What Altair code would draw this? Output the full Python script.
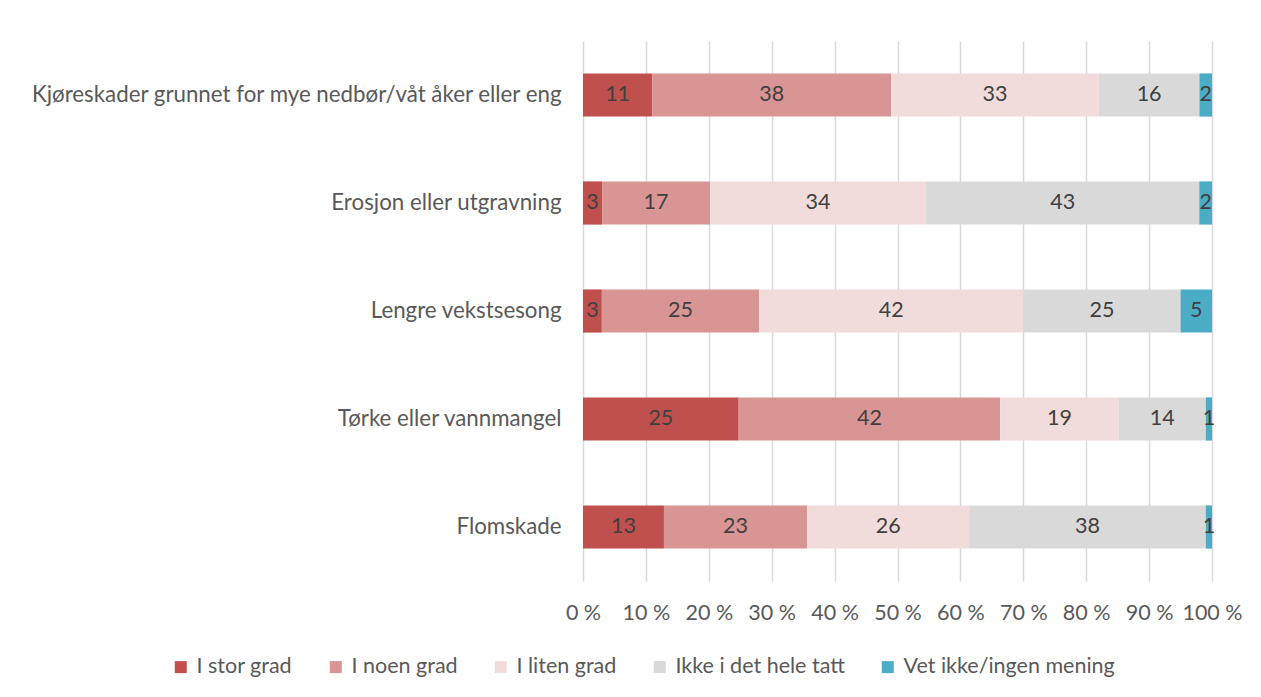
import altair as alt
import pandas as pd

categories = [
    "Kjøreskader grunnet for mye nedbør/våt åker eller eng",
    "Erosjon eller utgravning",
    "Lengre vekstsesong",
    "Tørke eller vannmangel",
    "Flomskade",
]
series = ["I stor grad", "I noen grad", "I liten grad", "Ikke i det hele tatt", "Vet ikke/ingen mening"]
colors = ["#C0504D", "#D99594", "#F2DCDB", "#D9D9D9", "#4BACC6"]

i_stor_grad = [11, 3, 3, 25, 13]
i_noen_grad = [38, 17, 25, 42, 23]
i_liten_grad = [33, 34, 42, 19, 26]
ikke_i_det_hele_tatt = [16, 43, 25, 14, 38]
vet_ikke = [2, 2, 5, 1, 1]

x_ticks = [0, 0.1, 0.2, 0.3, 0.4, 0.5, 0.6, 0.7, 0.8, 0.9, 1.0]

values = [i_stor_grad, i_noen_grad, i_liten_grad, ikke_i_det_hele_tatt, vet_ikke]
rows = []
for si, (s, vals) in enumerate(zip(series, values)):
    for c, v in zip(categories, vals):
        rows.append({"cat": c, "series": s, "value": v, "order": si})
df = pd.DataFrame(rows)

FONT = "Lato"
FS = 21.5
FSY = 22.3
TXT = "#595959"

base = alt.Chart(df).transform_stack(
    stack="value",
    groupby=["cat"],
    as_=["x0", "x1"],
    offset="normalize",
    sort=[alt.SortField("order", order="ascending")],
).transform_calculate(mid="(datum.x0 + datum.x1) / 2")

y_enc = alt.Y(
    "cat:N",
    sort=categories,
    title=None,
    scale=alt.Scale(paddingInner=0.6, paddingOuter=0.3),
    axis=alt.Axis(
        domain=False, ticks=False, grid=False, labelPadding=22,
        labelFontSize=FSY, labelColor=TXT, labelFont=FONT, labelLimit=700,
    ),
)

bars = base.mark_bar().encode(
    x=alt.X(
        "x0:Q",
        scale=alt.Scale(domain=[0, 1], nice=False),
        title=None,
        axis=alt.Axis(
            values=x_ticks,
            labelExpr="format(datum.value*100, '.0f') + ' %'",
            labelOverlap=False, labelFlush=False,
            domain=False, ticks=False, grid=True,
            gridColor="#D9D9D9", gridWidth=1.5,
            labelFontSize=FS, labelColor=TXT, labelFont=FONT, labelPadding=21,
        ),
    ),
    x2="x1:Q",
    y=y_enc,
    color=alt.Color(
        "series:N",
        scale=alt.Scale(domain=series, range=colors),
        legend=alt.Legend(
            title=None, orient="none", direction="horizontal",
            legendX=-413, legendY=615,
            symbolType="square", symbolSize=144, symbolStrokeWidth=0,
            labelFontSize=FS, labelColor=TXT, labelFont=FONT, labelLimit=400,
            columnPadding=32, labelOffset=5,
        ),
    ),
    order=alt.Order("order:Q"),
)

labels = base.mark_text(fontSize=FS, font=FONT, color="#404040").encode(
    x=alt.X("mid:Q"),
    y=alt.Y("cat:N", sort=categories),
    text=alt.Text("value:Q", format="d"),
)

chart = (
    alt.layer(bars, labels)
    .properties(
        width=629,
        height=540,
        background="white",
        autosize=alt.AutoSizeParams(type="none"),
        padding={"left": 575, "top": 33, "right": 40, "bottom": 100},
    )
    .configure_view(strokeWidth=0)
    .configure_axisY(grid=False)
)

chart.save("out.html", embed_options={"renderer": "svg", "actions": False})
